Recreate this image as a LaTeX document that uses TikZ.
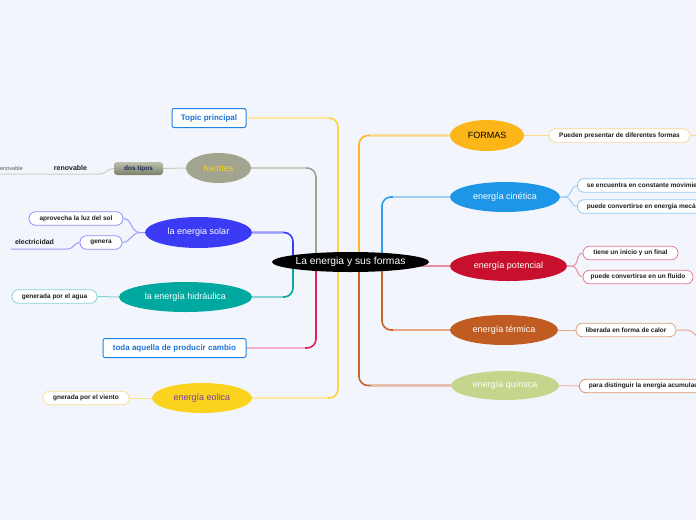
\documentclass[tikz,border=0pt]{standalone}
\usepackage{fontspec}
\setmainfont{Liberation Sans}
\usetikzlibrary{shapes.geometric}
\pgfdeclarelayer{bg}
\pgfdeclarelayer{lines}
\pgfsetlayers{bg,lines,main}
\definecolor{bgc}{HTML}{F3F5FD}
\definecolor{txtc}{HTML}{1E1E1E}
\definecolor{topicb}{HTML}{1E84E6}
\definecolor{topict}{HTML}{1A73D9}
\definecolor{fuentesc}{HTML}{A2A48F}
\definecolor{fuentest}{HTML}{F7D51E}
\definecolor{dostop}{HTML}{BCC0AC}
\definecolor{dosbot}{HTML}{7C806A}
\definecolor{dost}{HTML}{1A2A50}
\definecolor{solarc}{HTML}{3B3BF5}
\definecolor{solarsb}{HTML}{8C8CFF}
\definecolor{hidc}{HTML}{00A89F}
\definecolor{hidsb}{HTML}{86D2CE}
\definecolor{eolc}{HTML}{FAD31F}
\definecolor{eolt}{HTML}{7A3FA0}
\definecolor{eolsb}{HTML}{F5E08E}
\definecolor{formc}{HTML}{FDB619}
\definecolor{formsb}{HTML}{F8D894}
\definecolor{cinc}{HTML}{1E96E8}
\definecolor{cinsb}{HTML}{8EC8F2}
\definecolor{potc}{HTML}{C8102E}
\definecolor{potsb}{HTML}{E47A93}
\definecolor{terc}{HTML}{C05B22}
\definecolor{tersb}{HTML}{E0A080}
\definecolor{quic}{HTML}{C5D58C}
\definecolor{quisb}{HTML}{D8906E}
% branch colours
\definecolor{yL}{HTML}{FFE9A0}\definecolor{yD}{HTML}{FFD43B}
\definecolor{gL}{HTML}{CACCC2}\definecolor{gD}{HTML}{A0A294}
\definecolor{bL}{HTML}{9C9CFF}\definecolor{bD}{HTML}{3B3BF5}
\definecolor{tL}{HTML}{86D4CF}\definecolor{tD}{HTML}{00A8A0}
\definecolor{pL}{HTML}{F4B0CC}\definecolor{pD}{HTML}{E0205A}
\definecolor{oL}{HTML}{FFD88A}\definecolor{oD}{HTML}{FFB525}
\definecolor{cL}{HTML}{9CCDF2}\definecolor{cD}{HTML}{2C9CEB}
\definecolor{rL}{HTML}{E8909F}
\definecolor{mL}{HTML}{E6A888}\definecolor{mD}{HTML}{C8622A}
\definecolor{qL}{HTML}{ECBCA8}\definecolor{qD}{HTML}{C46432}
\begin{document}
\begin{tikzpicture}[x=1pt,y=-1pt,
  mainell/.style={ellipse, inner sep=0pt, font=\fontsize{9}{10}\selectfont, text=white},
  subbox/.style={draw, fill=white, rounded corners=6.5pt, line width=0.8pt, minimum height=13.5pt,
     inner xsep=2pt, inner ysep=0pt, font=\bfseries\fontsize{6.5}{7}\selectfont, text=txtc},
  cutbox/.style={subbox, anchor=west, inner xsep=9.5pt},
  topicbox/.style={draw=topicb, fill=white, rounded corners=2pt, line width=1pt, minimum height=19pt,
     inner sep=0pt, font=\bfseries\fontsize{8}{9}\selectfont, text=topict},
  dosbox/.style={rounded corners=3pt, top color=dostop, bottom color=dosbot, minimum height=13pt,
     inner sep=0pt, font=\bfseries\fontsize{6.5}{7}\selectfont, text=dost},
  plain/.style={inner sep=0pt, font=\bfseries\fontsize{7}{8}\selectfont, text=txtc},
  branch/.style={line width=1.6pt, rounded corners=9pt},
  twig/.style={line width=1pt}
]
\begin{pgfonlayer}{bg}
\fill[bgc] (0,0) rectangle (696,520);
\end{pgfonlayer}
\useasboundingbox (0,0) rectangle (696,520);

% ---------- centre
\node[mainell, fill=black, minimum width=157pt, minimum height=20pt, font=\fontsize{10.3}{11}\selectfont] (cen) at (350.5,262) {La energia y sus formas};
\coordinate (v293) at (293,262);
\coordinate (v316) at (316,262);
\coordinate (v338) at (338,262);
\coordinate (v359) at (359,262);
\coordinate (v382) at (382,262);

% ---------- left side
\node[topicbox, minimum width=74pt] (topic) at (209,118) {Topic principal};
\node[mainell, fill=fuentesc, text=fuentest, minimum width=65pt, minimum height=30pt] (fue) at (218.5,168) {fuentes};
\node[dosbox, minimum width=49pt] (dos) at (138.5,168.5) {dos tipos};
\node[plain] (ren) at (70.5,168) {renovable};
\node[inner sep=0pt, font=\fontsize{5.6}{6}\selectfont, text=black!65, anchor=east] (nren) at (23,168) {no renovable};
\coordinate (renA) at (100,174);
\coordinate (renB) at (-5,174);

\node[mainell, fill=solarc, minimum width=107pt, minimum height=31pt] (sol) at (198.5,232.5) {la energia solar};
\node[subbox, draw=solarsb, minimum width=94pt] (apr) at (76,218.5) {aprovecha la luz del sol};
\node[subbox, draw=solarsb, minimum width=42pt] (gen) at (101,242.5) {genera};
\node[plain] (ele) at (34.5,242) {electricidad};
\coordinate (eleA) at (68,249);
\coordinate (eleB) at (11,249);

\node[mainell, fill=hidc, minimum width=133pt, minimum height=30pt] (hid) at (185.5,297) {la energía hidráulica};
\node[subbox, draw=hidsb, minimum width=85pt] (agua) at (54.5,296.5) {generada por el agua};

\node[topicbox, minimum width=143pt] (toda) at (174.5,348) {toda aquella de producir cambio};

\node[mainell, fill=eolc, text=eolt, minimum width=100pt, minimum height=30pt] (eol) at (202,398) {energía eolica};
\node[subbox, draw=eolsb, minimum width=86pt] (vie) at (86,398) {gnerada por el viento};

% ---------- right side
\node[mainell, fill=formc, text=black, minimum width=74pt, minimum height=31pt] (for) at (487,135.5) {FORMAS};
\node[subbox, draw=formsb, minimum width=141pt] (pue) at (619.5,135.5) {Pueden presentar de diferentes formas};
\coordinate (pueR) at (720,135.5);

\node[mainell, fill=cinc, minimum width=110pt, minimum height=30pt] (cin) at (505,197) {energía cinética};
\node[cutbox, draw=cinsb] (cin1) at (577,185.5) {se encuentra en constante movimiento};
\node[cutbox, draw=cinsb] (cin2) at (577,206.5) {puede convertirse en energia mecánica};

\node[mainell, fill=potc, minimum width=117pt, minimum height=30pt] (pot) at (508.5,266) {energía potencial};
\node[subbox, draw=potsb, minimum width=95pt] (pot1) at (630.5,253) {tiene un inicio y un final};
\node[subbox, draw=potsb, minimum width=110pt] (pot2) at (638,277) {puede convertirse en un fluido};

\node[mainell, fill=terc, minimum width=108pt, minimum height=30pt] (ter) at (504,330) {energía térmica};
\node[subbox, draw=tersb, minimum width=100pt] (lib) at (626,330) {liberada en forma de calor};
\coordinate (libR) at (705,340);

\node[mainell, fill=quic, minimum width=108pt, minimum height=29pt] (qui) at (505,385.5) {energía química};
\node[cutbox, draw=quisb] (para) at (579,386) {para distinguir la energia acumulada};

% ---------- connectors
\begin{pgfonlayer}{lines}
% left main branches
\draw[branch, yD] (topic.east) -| (v338);
\draw[branch, yL] (topic.east) -- ++(82,0);
\draw[branch, gD] (fue.east) -| (v316);
\draw[branch, gL] (fue.east) -- ++(55,0);
\draw[branch, bD] (sol.east) -| (v293);
\draw[branch, bL] (sol.east) -- ++(31,0);
\draw[branch, tD] (hid.east) -| (v293);
\draw[branch, tL] (hid.east) -- ++(31,0);
\draw[branch, pD] (toda.east) -| (v316);
\draw[branch, pL] (toda.east) -- ++(58,0);
\draw[branch, yD] (eol.east) -| (v338);
\draw[branch, yL] (eol.east) -- ++(76,0);
% right main branches
\draw[branch, oD] (for.west) -| (v359);
\draw[branch, oL] (for.west) -- ++(-80,0);
\draw[branch, cD] (cin.west) -| (v382);
\draw[branch, cL] (cin.west) -- ++(-57,0);
\draw[branch, rL] (pot.west -| cen.center) -- (pot.west);
\draw[branch, mD] (ter.west) -| (v382);
\draw[branch, mL] (ter.west) -- ++(-57,0);
\draw[branch, qD] (qui.west) -| (v359);
\draw[branch, qL] (qui.west) -- ++(-80,0);
% twigs left
\draw[twig, gL] (fue.west) -- (dos.east);
\draw[twig, gL] (dos.west) to[out=180,in=0] (renA) -- (renB);
\draw[twig, bL] (sol.west) -- ++(-5,0) to[out=180,in=0] (apr.east);
\draw[twig, bL] (sol.west) -- ++(-5,0) to[out=180,in=0] (gen.east);
\draw[twig, bL] (gen.west) to[out=180,in=0] (eleA) -- (eleB);
\draw[twig, tL] (hid.west) -- (agua.east);
\draw[twig, eolsb] (eol.west) -- (vie.east);
% twigs right
\draw[twig, oL] (for.east) -- (pue.west);
\draw[twig, oL] (pue.east) -- (pueR);
\draw[twig, cL] (cin.east) -- ++(5,0) to[out=0,in=180] (cin1.west);
\draw[twig, cL] (cin.east) -- ++(5,0) to[out=0,in=180] (cin2.west);
\draw[twig, rL] (pot.east) -- ++(5,0) to[out=0,in=180] (pot1.west);
\draw[twig, rL] (pot.east) -- ++(5,0) to[out=0,in=180] (pot2.west);
\draw[twig, mL] (ter.east) -- (lib.west);
\draw[twig, mL] (lib.east) -- ++(10,0) to[out=0,in=180] (libR);
\draw[twig, qL] (qui.east) -- (para.west);
\end{pgfonlayer}
\end{tikzpicture}
\end{document}
